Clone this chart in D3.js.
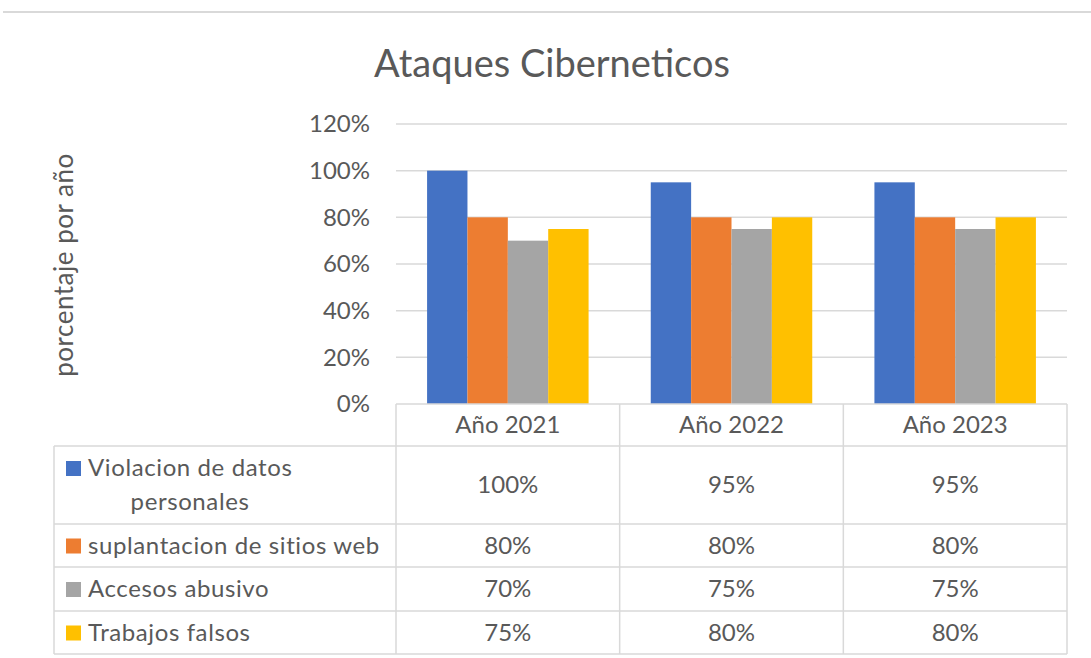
<!DOCTYPE html>
<html>
<head>
<meta charset="utf-8">
<script src="https://cdn.jsdelivr.net/npm/d3@7"></script>
<style>
  body { margin: 0; background: #fff; }
  svg text { font-family: Lato, "Open Sans", sans-serif; fill: #595959; }
</style>
</head>
<body>
<div id="viz"></div>
<script>
// chart data
var years = ["Año 2021", "Año 2022", "Año 2023"];
var series = ["Violacion de datos personales", "suplantacion de sitios web", "Accesos abusivo", "Trabajos falsos"];
var violacion = [1.00, 0.95, 0.95];
var suplantacion = [0.80, 0.80, 0.80];
var accesos = [0.70, 0.75, 0.75];
var trabajos = [0.75, 0.80, 0.80];
var yTicks = [0, 0.2, 0.4, 0.6, 0.8, 1.0, 1.2];
var colors = ["#4472C4", "#ED7D31", "#A5A5A5", "#FFC000"];

var values = [violacion, suplantacion, accesos, trabajos];

// layout
var w = 1091, h = 658;
var plotLeft = 396, plotRight = 1067, plotTop = 124, plotBottom = 404;
var tableLeft = 54;
var rowH = [42, 78, 43, 44, 43];   // header row + one row per series
var fs = "24px";

var svg = d3.select("div#viz").append("svg")
  .attr("width", w)
  .attr("height", h);

// thin page border at the top
svg.append("line")
  .attr("x1", 3).attr("x2", w)
  .attr("y1", 12).attr("y2", 12)
  .attr("stroke", "#d9d9d9")
  .attr("stroke-width", 2);

// title
svg.append("text").text("Ataques Ciberneticos")
  .attr("x", 552)
  .attr("y", 77)
  .style("font-size", "38px")
  .style("text-anchor", "middle");

var x0 = d3.scaleBand().domain(years).range([plotLeft, plotRight]);
var x1 = d3.scaleBand().domain(series).range([0, x0.bandwidth()]).paddingOuter(0.77);
var y = d3.scaleLinear().domain([0, 1.2]).range([plotBottom, plotTop]);

// gridlines
svg.append("g").selectAll("line").data(yTicks.slice(1)).enter().append("line")
  .attr("x1", plotLeft).attr("x2", plotRight)
  .attr("y1", function (d) { return y(d); })
  .attr("y2", function (d) { return y(d); })
  .attr("stroke", "#d9d9d9")
  .attr("stroke-width", 1.5);

// y axis labels
var yAxis = d3.axisLeft(y).tickValues(yTicks).tickSize(0).tickPadding(26)
  .tickFormat(function (d) { return Math.round(d * 100) + "%"; });
var yg = svg.append("g").attr("transform", "translate(" + plotLeft + ",0)").call(yAxis);
yg.select(".domain").remove();
yg.selectAll("text")
  .style("font-size", fs)
  .attr("fill", "#595959");

// y axis title
svg.append("text").text("porcentaje por año")
  .attr("x", -265)
  .attr("y", 73)
  .style("font-size", "26px")
  .style("letter-spacing", "0.5px")
  .style("text-anchor", "middle")
  .attr("transform", "rotate(-90)");

// bars
series.forEach(function (s, si) {
  svg.append("g").selectAll("rect").data(values[si]).enter().append("rect")
    .attr("x", function (d, i) { return x0(years[i]) + x1(s); })
    .attr("y", function (d) { return y(d); })
    .attr("width", x1.bandwidth())
    .attr("height", function (d) { return y(0) - y(d); })
    .attr("fill", colors[si]);
});

// data table under the plot
var rowTop = [plotBottom];
for (var i = 0; i < rowH.length; i++) rowTop.push(rowTop[i] + rowH[i]);
var tableBottom = rowTop[rowTop.length - 1];
var grid = svg.append("g").attr("stroke", "#d9d9d9").attr("stroke-width", 1.5).attr("fill", "none");

// horizontal lines
rowTop.forEach(function (ty, i) {
  grid.append("line")
    .attr("x1", i < 1 ? plotLeft : tableLeft).attr("x2", plotRight)
    .attr("y1", ty).attr("y2", ty);
});
// vertical lines
grid.append("line").attr("x1", tableLeft).attr("x2", tableLeft).attr("y1", rowTop[1]).attr("y2", tableBottom);
years.forEach(function (yr) {
  grid.append("line").attr("x1", x0(yr)).attr("x2", x0(yr)).attr("y1", plotBottom).attr("y2", tableBottom);
});
grid.append("line").attr("x1", plotRight).attr("x2", plotRight).attr("y1", plotBottom).attr("y2", tableBottom);

// header
svg.append("g").selectAll("text").data(years).enter().append("text")
  .text(function (d) { return d; })
  .attr("x", function (d) { return x0(d) + x0.bandwidth() / 2; })
  .attr("y", (rowTop[0] + rowTop[1]) / 2)
  .attr("dy", "0.35em")
  .style("font-size", fs)
  .style("text-anchor", "middle");

// rows
series.forEach(function (s, si) {
  var cy = (rowTop[si + 1] + rowTop[si + 2]) / 2;
  var keyY = si === 0 ? cy - 17 : cy;
  svg.append("rect")
    .attr("x", 66).attr("y", keyY - 7)
    .attr("width", 15).attr("height", 15)
    .attr("fill", colors[si]);
  if (si === 0) {
    svg.append("text").text("Violacion de datos")
      .attr("x", 88).attr("y", cy - 17).attr("dy", "0.35em")
      .style("font-size", fs)
      .style("letter-spacing", "0.6px");
    svg.append("text").text("personales")
      .attr("x", 190).attr("y", cy + 17).attr("dy", "0.35em")
      .style("font-size", fs)
      .style("letter-spacing", "0.6px")
      .style("text-anchor", "middle");
  } else {
    svg.append("text").text(s)
      .attr("x", 88).attr("y", cy).attr("dy", "0.35em")
      .style("font-size", fs)
      .style("letter-spacing", "0.6px");
  }
  svg.append("g").selectAll("text").data(values[si]).enter().append("text")
    .text(function (d) { return Math.round(d * 100) + "%"; })
    .attr("x", function (d, i) { return x0(years[i]) + x0.bandwidth() / 2; })
    .attr("y", cy)
    .attr("dy", "0.35em")
    .style("font-size", fs)
    .style("text-anchor", "middle");
});
</script>
</body>
</html>
